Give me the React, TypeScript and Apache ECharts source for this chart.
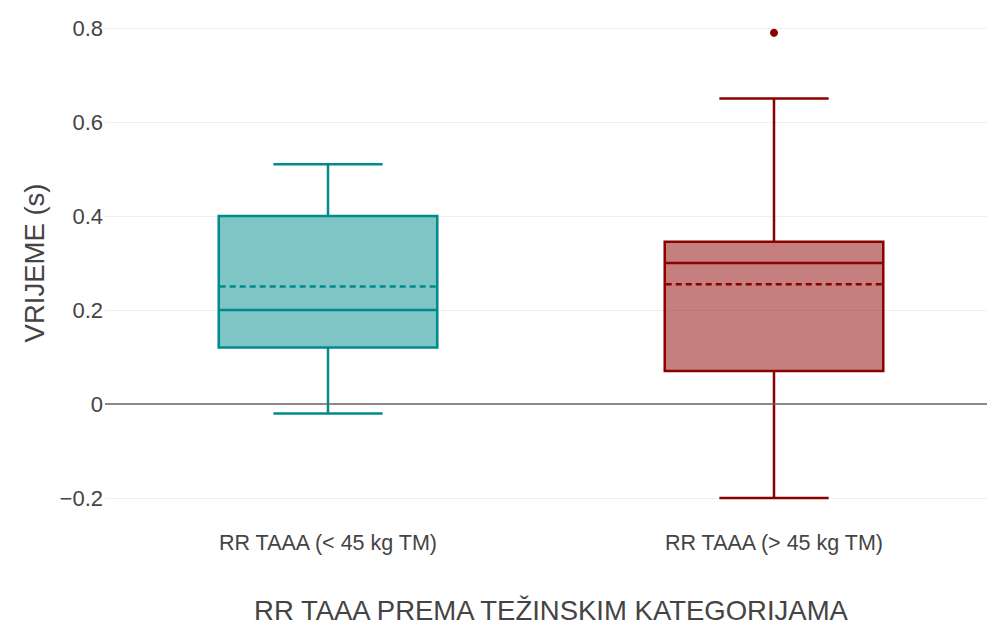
import React, { useEffect, useRef } from "react";
import * as echarts from "echarts";

const categories = ["RR TAAA (< 45 kg TM)", "RR TAAA (> 45 kg TM)"];
// [lower whisker, Q1, median, Q3, upper whisker, mean]
const boxStats = [
  [-0.02, 0.12, 0.2, 0.4, 0.51, 0.25],
  [-0.2, 0.07, 0.3, 0.345, 0.65, 0.255],
];
const outliers = [[1, 0.79]];
const borderColors = ["#008B8B", "#8B0000"];
const fillColors = ["rgba(0,139,139,0.5)", "rgba(139,0,0,0.5)"];
const yTicks = { min: -0.2, max: 0.8, interval: 0.2 };

export default function App() {
  const ref = useRef<HTMLDivElement>(null);
  useEffect(() => {
    const chart = echarts.init(ref.current!, null, { renderer: "svg" });
    const font = "Liberation Sans, Arial, sans-serif";
    const data = boxStats.map((s, i) => [i, ...s]);
    chart.setOption({
      animation: false,
      grid: {
        left: 105,
        top: 28,
        width: 892,
        bottom: 130,
        containLabel: false,
        outerBoundsMode: "none",
      },
      xAxis: {
        type: "category",
        data: categories,
        axisLine: { show: false },
        axisTick: { show: false },
        splitLine: { show: false },
        axisLabel: { color: "#444", fontSize: 21.5, fontFamily: font, margin: 34 },
        name: "RR TAAA PREMA TEŽINSKIM KATEGORIJAMA",
        nameLocation: "middle",
        nameGap: 98,
        nameTextStyle: { color: "#444", fontSize: 27.5, fontFamily: font },
      },
      yAxis: {
        type: "value",
        min: yTicks.min,
        max: yTicks.max,
        interval: yTicks.interval,
        axisLine: { show: false },
        axisTick: { show: false },
        splitLine: { lineStyle: { color: "#eee", width: 1 } },
        axisLabel: {
          color: "#444",
          fontSize: 22,
          fontFamily: font,
          margin: 2,
          formatter: (v: number) => {
            const r = Math.round(v * 10) / 10;
            if (r === 0) return "0";
            return (r < 0 ? "\u2212" : "") + Math.abs(r).toString();
          },
        },
        name: "VRIJEME (s)",
        nameLocation: "middle",
        nameGap: 57,
        nameTextStyle: { color: "#444", fontSize: 27.5, fontFamily: font },
      },
      series: [
        {
          type: "custom",
          data,
          encode: { x: 0, y: [1, 2, 3, 4, 5, 6] },
          renderItem: (params: any, api: any) => {
            const i = api.value(0);
            const low = api.value(1), q1 = api.value(2), med = api.value(3);
            const q3 = api.value(4), high = api.value(5), mean = api.value(6);
            const band = api.size([1, 0])[0];
            const w = band * 0.49;
            const cx = api.coord([i, 0])[0];
            const y = (v: number) => api.coord([i, v])[1];
            const stroke = borderColors[i];
            const ls = { stroke, lineWidth: 2.5 };
            return {
              type: "group",
              children: [
                {
                  type: "rect",
                  shape: { x: cx - w / 2, y: y(q3), width: w, height: y(q1) - y(q3) },
                  style: { fill: fillColors[i], stroke, lineWidth: 2.5 },
                },
                { type: "line", shape: { x1: cx - w / 2, y1: y(med), x2: cx + w / 2, y2: y(med) }, style: ls },
                {
                  type: "line",
                  shape: { x1: cx - w / 2 + 1, y1: y(mean), x2: cx + w / 2 - 1, y2: y(mean) },
                  style: { stroke, lineWidth: 2.5, lineDash: [6, 4] },
                },
                { type: "line", shape: { x1: cx, y1: y(q3), x2: cx, y2: y(high) }, style: ls },
                { type: "line", shape: { x1: cx, y1: y(q1), x2: cx, y2: y(low) }, style: ls },
                { type: "line", shape: { x1: cx - w / 4, y1: y(high), x2: cx + w / 4, y2: y(high) }, style: ls },
                { type: "line", shape: { x1: cx - w / 4, y1: y(low), x2: cx + w / 4, y2: y(low) }, style: ls },
              ],
            };
          },
          markLine: {
            silent: true,
            symbol: "none",
            label: { show: false },
            lineStyle: { color: "#666", width: 1.5, type: "solid" },
            data: [{ yAxis: 0 }],
          },
          z: 3,
        },
        {
          type: "scatter",
          data: outliers,
          symbolSize: 8,
          itemStyle: { color: "#8B0000", opacity: 1 },
          z: 4,
        },
      ],
    });
    return () => chart.dispose();
  }, []);
  return (
    <div
      ref={ref}
      style={{ position: "absolute", left: 0, top: 0, width: 987, height: 628 }}
    />
  );
}
